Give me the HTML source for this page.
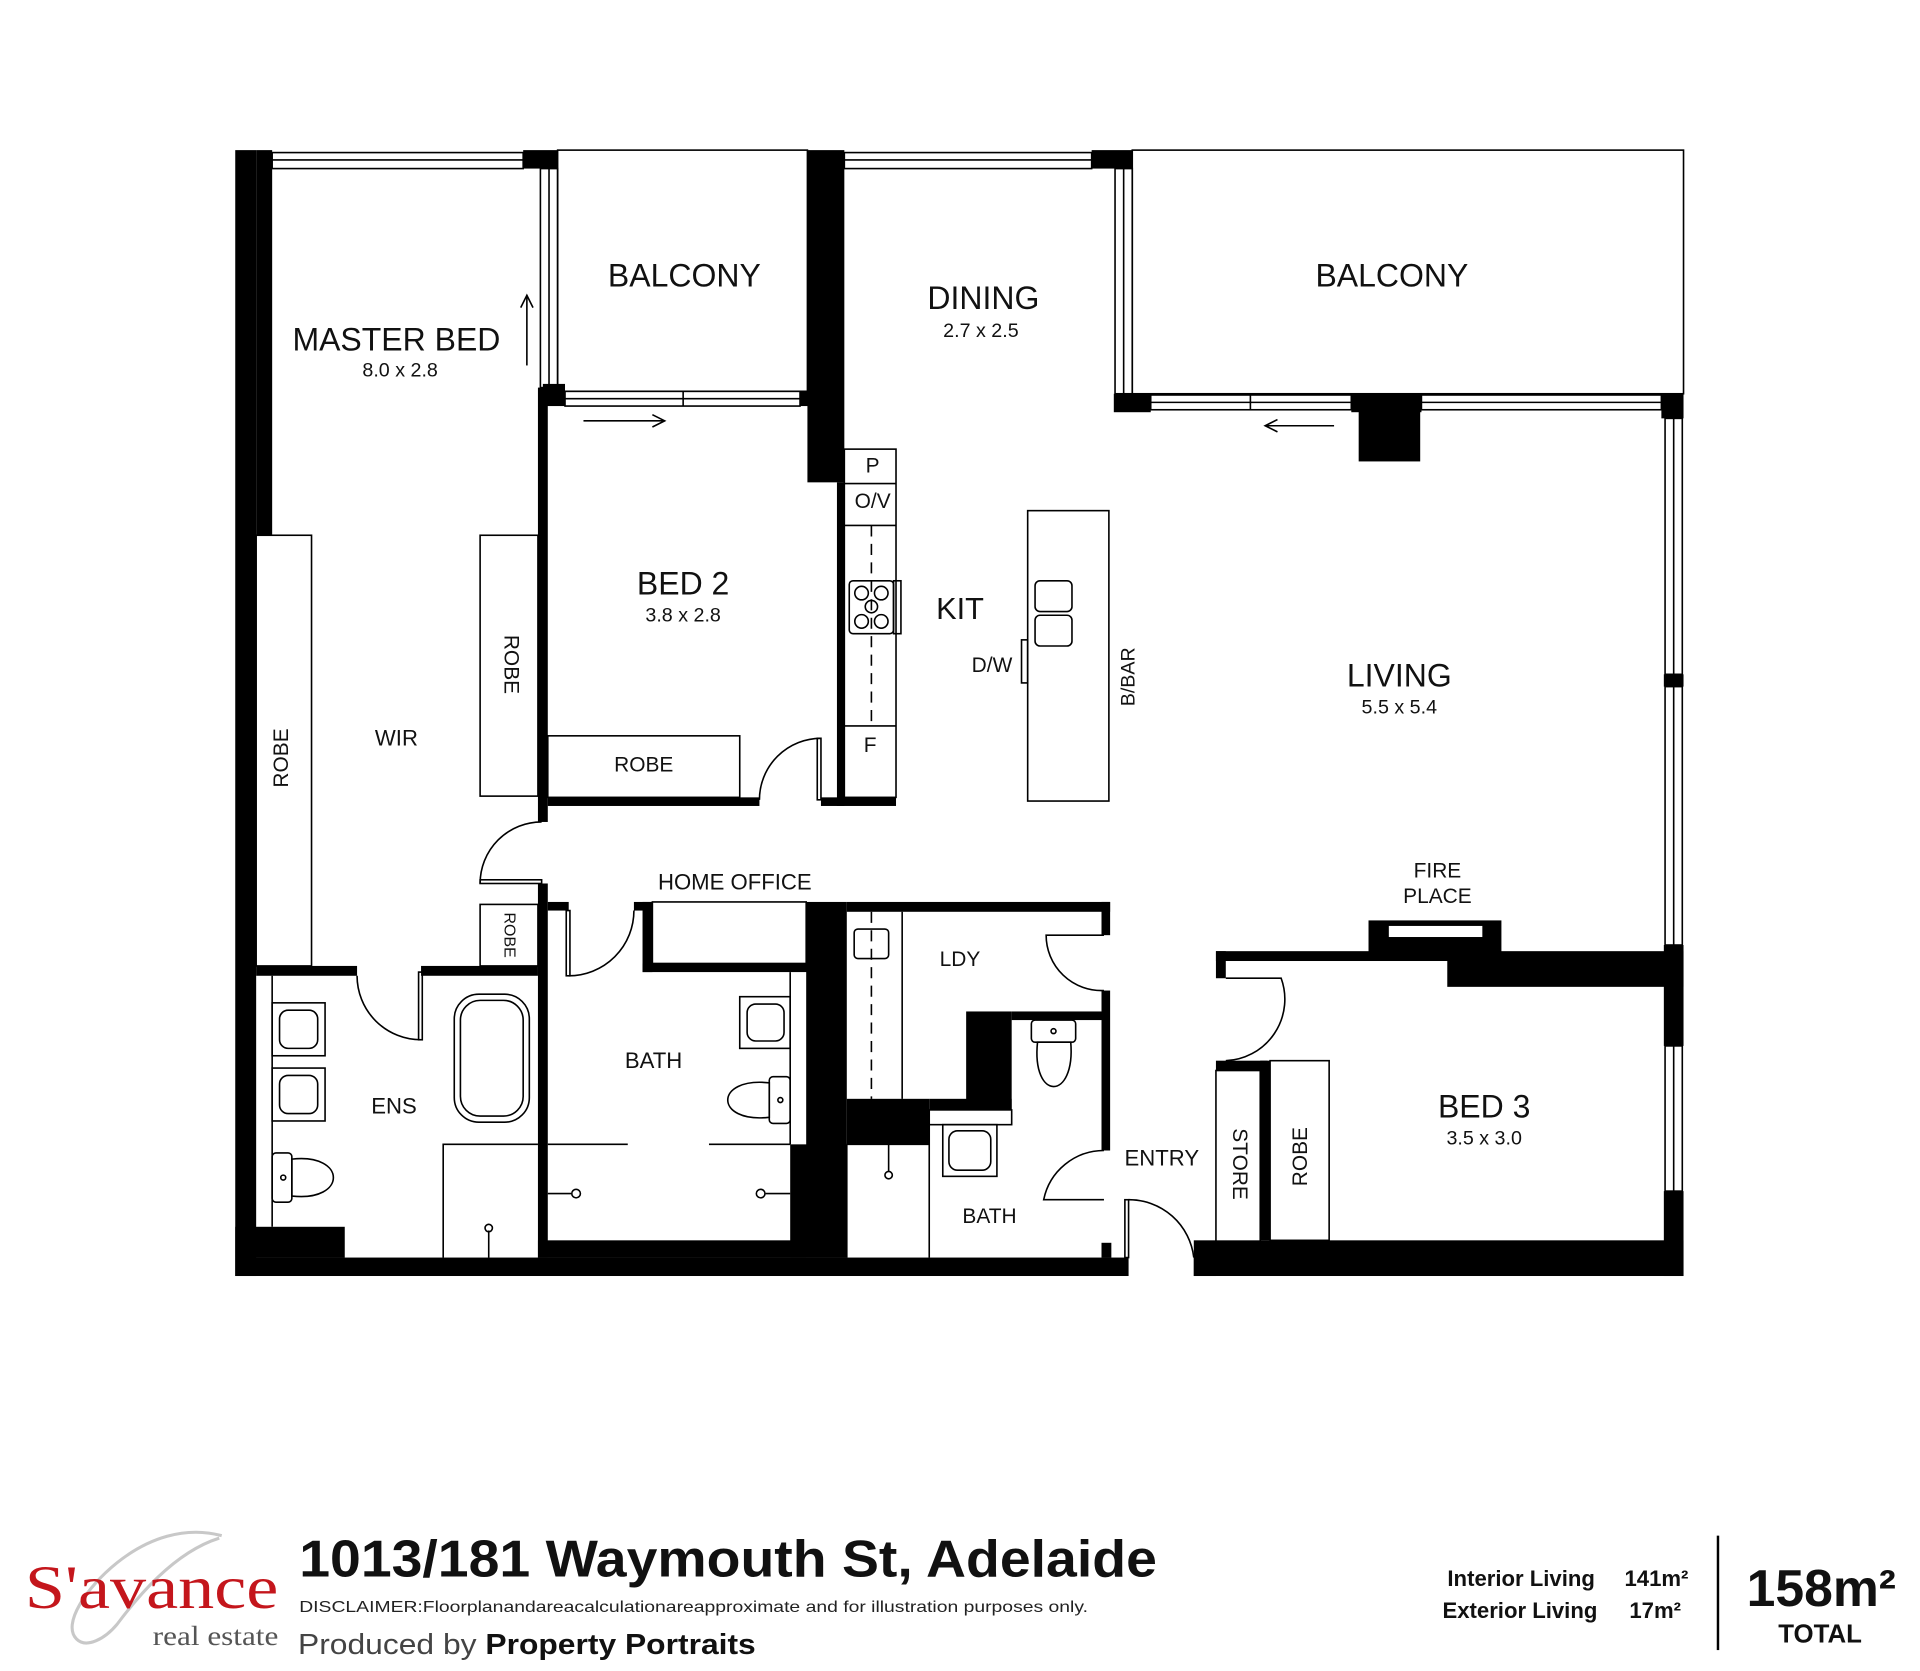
<!DOCTYPE html>
<html><head><meta charset="utf-8"><style>
html,body{margin:0;padding:0;background:#fff;width:1920px;height:1671px;overflow:hidden}
svg{display:block}
text{font-family:"Liberation Sans",sans-serif;fill:#111}
text.serif{font-family:"Liberation Serif",serif}
</style></head><body>
<svg width="1920" height="1671" viewBox="0 0 1560 1358" xmlns="http://www.w3.org/2000/svg">
<g fill="#000">
<rect x="191" y="122" width="17" height="915"/>
<rect x="208" y="122" width="13" height="313"/>
<rect x="191" y="1022" width="726" height="15"/>
<rect x="191" y="997" width="89" height="25"/>
<rect x="437" y="1008" width="218" height="14"/>
<rect x="642" y="930" width="46" height="92"/>
<rect x="895" y="1010" width="8" height="12"/>
<rect x="970" y="1008" width="398" height="29"/>
<rect x="970" y="1022" width="18" height="15"/>
<rect x="425" y="122" width="28" height="15"/>
<rect x="656" y="122" width="30" height="270"/>
<rect x="887" y="122" width="33" height="15"/>
<rect x="441" y="312" width="18" height="18"/>
<rect x="650" y="318" width="10" height="12"/>
<rect x="905" y="320" width="30" height="15"/>
<rect x="1098" y="320" width="57" height="15"/>
<rect x="1104" y="320" width="50" height="55"/>
<rect x="1350" y="320" width="18" height="20"/>
<rect x="1352" y="548" width="16" height="10"/>
<rect x="1352" y="768" width="16" height="82"/>
<rect x="1352" y="968" width="16" height="69"/>
<rect x="437" y="315" width="8" height="353"/>
<rect x="437" y="718" width="8" height="304"/>
<rect x="445" y="648" width="172" height="7"/>
<rect x="680" y="392" width="6" height="263"/>
<rect x="667" y="648" width="61" height="7"/>
<rect x="208" y="785" width="82" height="8"/>
<rect x="342" y="785" width="95" height="8"/>
<rect x="445" y="733" width="17" height="7"/>
<rect x="515" y="733" width="15" height="7"/>
<rect x="522" y="733" width="8" height="57"/>
<rect x="522" y="783" width="138" height="7"/>
<rect x="655" y="733" width="33" height="200"/>
<rect x="688" y="733" width="214" height="8"/>
<rect x="895" y="733" width="7" height="27"/>
<rect x="895" y="805" width="7" height="130"/>
<rect x="688" y="893" width="67" height="37"/>
<rect x="785" y="822" width="37" height="80"/>
<rect x="755" y="893" width="67" height="9"/>
<rect x="822" y="822" width="73" height="7"/>
<rect x="988" y="773" width="190" height="8"/>
<rect x="1176" y="773" width="192" height="29"/>
<rect x="1112" y="748" width="108" height="27"/>
<rect x="988" y="773" width="8" height="22"/>
<rect x="988" y="862" width="42" height="8"/>
<rect x="1024" y="862" width="8" height="146"/>
</g>
<rect x="1128" y="752" width="77" height="10" fill="#fff" stroke="#000" stroke-width="1"/>
<g fill="none" stroke="#000" stroke-width="1.3">
<rect x="221" y="124" width="204" height="13"/><line x1="221" y1="130" x2="425" y2="130"/>
<rect x="686" y="124" width="201" height="13"/><line x1="686" y1="130" x2="887" y2="130"/>
<rect x="439" y="137" width="14" height="178"/><line x1="446" y1="137" x2="446" y2="315"/>
<rect x="906" y="137" width="14" height="183"/><line x1="913" y1="137" x2="913" y2="320"/>
<rect x="459" y="318" width="191" height="12"/><line x1="459" y1="324" x2="650" y2="324"/><line x1="555" y1="318" x2="555" y2="330"/>
<rect x="935" y="321" width="163" height="12"/><line x1="935" y1="327" x2="1098" y2="327"/><line x1="1016" y1="321" x2="1016" y2="333"/>
<rect x="1155" y="321" width="195" height="12"/><line x1="1155" y1="327" x2="1350" y2="327"/>
<rect x="1353" y="340" width="14" height="208"/><line x1="1360" y1="340" x2="1360" y2="548"/>
<rect x="1353" y="558" width="14" height="210"/><line x1="1360" y1="558" x2="1360" y2="768"/>
<rect x="1353" y="850" width="14" height="118"/><line x1="1360" y1="850" x2="1360" y2="968"/>
<rect x="453" y="122" width="203" height="196"/>
<rect x="920" y="122" width="448" height="198"/>
<rect x="208" y="435" width="45" height="350"/>
<rect x="390" y="435" width="47" height="212"/>
<rect x="445" y="598" width="156" height="50"/>
<rect x="390" y="735" width="47" height="50"/>
<rect x="530" y="733" width="125" height="50"/>
<rect x="988" y="870" width="36" height="152"/>
<rect x="1032" y="862" width="48" height="146"/>
<rect x="686" y="365" width="42" height="283"/>
<line x1="686" y1="393" x2="728" y2="393"/><line x1="686" y1="427" x2="728" y2="427"/><line x1="686" y1="590" x2="728" y2="590"/>
<line x1="708" y1="427" x2="708" y2="590" stroke-dasharray="9,6"/>
<rect x="690" y="472" width="36" height="43" rx="3"/><rect x="726" y="472" width="6" height="43"/>
<circle cx="700" cy="482" r="5.5"/><circle cx="716" cy="482" r="5.5"/><circle cx="700" cy="505" r="5.5"/><circle cx="716" cy="505" r="5.5"/><circle cx="708" cy="493" r="5"/>
<rect x="835" y="415" width="66" height="236"/>
<rect x="841" y="472" width="30" height="25" rx="4"/><rect x="841" y="500" width="30" height="25" rx="4"/>
<rect x="830" y="520" width="5" height="35"/>
<path d="M390 718 A50 50 0 0 1 440 668"/><rect x="390" y="715" width="50" height="3"/>
<path d="M667 600 A50 50 0 0 0 617 650"/><rect x="664" y="600" width="3" height="50"/>
<path d="M290 793 A52 52 0 0 0 342 845"/><rect x="340" y="790" width="3" height="55"/>
<path d="M515 740 A53 53 0 0 1 462 793"/><rect x="460" y="740" width="3" height="53"/>
<path d="M897 760 L850 760 A45 45 0 0 0 897 805"/>
<path d="M897 935 A50 50 0 0 0 848 975 L897 975"/>
<path d="M917 975 A53 53 0 0 1 970 1022"/><rect x="914" y="975" width="3" height="47"/>
<path d="M996 795 L1041 795 A50 50 0 0 1 996 862"/>
<line x1="428" y1="297" x2="428" y2="240"/><path d="M423 250 L428 240 L433 250"/>
<line x1="474" y1="342" x2="540" y2="342"/><path d="M530 337 L540 342 L530 347"/>
<line x1="1084" y1="346" x2="1028" y2="346"/><path d="M1038 341 L1028 346 L1038 351"/>
<line x1="221" y1="793" x2="221" y2="997"/>
<rect x="221" y="815" width="43" height="43"/><rect x="227" y="821" width="31" height="31" rx="7"/>
<rect x="221" y="868" width="43" height="43"/><rect x="227" y="874" width="31" height="31" rx="7"/>
<rect x="221" y="937" width="16" height="40" rx="3"/><path d="M237 942 C282 937 282 977 237 972 Z"/><circle cx="230" cy="957" r="2"/>
<rect x="369" y="808" width="61" height="104" rx="20"/><rect x="374" y="813" width="51" height="94" rx="16"/>
<polyline points="437,930 360,930 360,1022"/><line x1="397" y1="1000" x2="397" y2="1022"/><circle cx="397" cy="998" r="3"/>
<line x1="445" y1="930" x2="510" y2="930"/><line x1="576" y1="930" x2="642" y2="930"/>
<line x1="642" y1="790" x2="642" y2="930"/>
<rect x="601" y="810" width="41" height="42"/><rect x="607" y="816" width="30" height="30" rx="7"/>
<rect x="625" y="875" width="17" height="38" rx="3"/><path d="M625 880 C580 875 580 913 625 908 Z"/><circle cx="634" cy="894" r="2"/>
<line x1="445" y1="970" x2="464" y2="970"/><circle cx="468" cy="970" r="3.5"/>
<line x1="642" y1="970" x2="622" y2="970"/><circle cx="618" cy="970" r="3.5"/>
<line x1="733" y1="741" x2="733" y2="893"/>
<line x1="708" y1="741" x2="708" y2="893" stroke-dasharray="9,6"/>
<rect x="694" y="755" width="28" height="24" rx="3"/>
<rect x="838" y="829" width="36" height="18" rx="3"/><circle cx="856" cy="838" r="2"/>
<path d="M843 847 C838 895 874 895 870 847 Z"/>
<rect x="755" y="902" width="67" height="12"/>
<rect x="766" y="914" width="44" height="42"/><rect x="771" y="919" width="34" height="32" rx="7"/>
<line x1="755" y1="914" x2="755" y2="1022"/>
<line x1="688" y1="930" x2="755" y2="930"/>
<line x1="722" y1="930" x2="722" y2="952"/><circle cx="722" cy="955" r="3"/>
<line x1="688" y1="930" x2="688" y2="1022"/>
</g>
<g text-anchor="middle">
<text x="556" y="233" font-size="26">BALCONY</text>
<text x="1131" y="233" font-size="26">BALCONY</text>
<text x="322" y="285" font-size="26">MASTER BED</text>
<text x="325" y="306" font-size="16">8.0 x 2.8</text>
<text x="799" y="251" font-size="26">DINING</text>
<text x="797" y="274" font-size="16">2.7 x 2.5</text>
<text x="555" y="483" font-size="26">BED 2</text>
<text x="555" y="505" font-size="16">3.8 x 2.8</text>
<text x="780" y="503" font-size="25">KIT</text>
<text x="1137" y="558" font-size="26">LIVING</text>
<text x="1137" y="580" font-size="16">5.5 x 5.4</text>
<text x="1206" y="908" font-size="26">BED 3</text>
<text x="1206" y="930" font-size="16">3.5 x 3.0</text>
<text x="322" y="606" font-size="18">WIR</text>
<text x="523" y="627" font-size="17">ROBE</text>
<text x="597" y="723" font-size="18">HOME OFFICE</text>
<text x="709" y="384" font-size="17">P</text>
<text x="709" y="413" font-size="17">O/V</text>
<text x="707" y="611" font-size="17">F</text>
<text x="806" y="546" font-size="17">D/W</text>
<text x="1168" y="713" font-size="17">FIRE</text>
<text x="1168" y="734" font-size="17">PLACE</text>
<text x="780" y="785" font-size="17">LDY</text>
<text x="320" y="905" font-size="18">ENS</text>
<text x="531" y="868" font-size="18">BATH</text>
<text x="804" y="994" font-size="17">BATH</text>
<text x="944" y="947" font-size="18">ENTRY</text>
<text transform="translate(234,616) rotate(-90)" font-size="17">ROBE</text>
<text transform="translate(410,540) rotate(90)" font-size="17">ROBE</text>
<text transform="translate(410,760) rotate(90)" font-size="13">ROBE</text>
<text transform="translate(1002,946) rotate(90)" font-size="17">STORE</text>
<text transform="translate(1062,940) rotate(-90)" font-size="17">ROBE</text>
<text transform="translate(922,550) rotate(-90)" font-size="16">B/BAR</text>
</g>
<path d="M62 1332 C50 1320 70 1290 95 1270 C120 1250 150 1240 180 1248 M178 1250 C140 1262 110 1300 95 1320 C85 1332 70 1340 62 1332" fill="none" stroke="#c8c8c8" stroke-width="2.5"/>
<text class="serif" x="20" y="1307" font-size="50" style="fill:#c4161c" textLength="206" lengthAdjust="spacingAndGlyphs">S'avance</text>
<text class="serif" x="124" y="1337" font-size="22" style="fill:#555" textLength="102" lengthAdjust="spacingAndGlyphs">real estate</text>
<text x="243" y="1281" font-size="42" font-weight="bold" textLength="697" lengthAdjust="spacingAndGlyphs">1013/181 Waymouth St, Adelaide</text>
<text x="243" y="1310" font-size="13" style="fill:#222" textLength="641" lengthAdjust="spacingAndGlyphs">DISCLAIMER:Floorplanandareacalculationareapproximate and for illustration purposes only.</text>
<text x="242" y="1344" font-size="23" style="fill:#444" textLength="372" lengthAdjust="spacingAndGlyphs">Produced by <tspan font-weight="bold" style="fill:#111">Property Portraits</tspan></text>
<text x="1296" y="1289" font-size="18" font-weight="bold" text-anchor="end">Interior Living</text>
<text x="1298" y="1315" font-size="18" font-weight="bold" text-anchor="end">Exterior Living</text>
<text x="1320" y="1289" font-size="18" font-weight="bold">141m²</text>
<text x="1324" y="1315" font-size="18" font-weight="bold">17m²</text>
<rect x="1395" y="1248" width="2" height="93" fill="#000"/>
<text x="1480" y="1305" font-size="42" font-weight="bold" text-anchor="middle">158m²</text>
<text x="1479" y="1335" font-size="21" font-weight="bold" text-anchor="middle">TOTAL</text>
</svg>
</body></html>
